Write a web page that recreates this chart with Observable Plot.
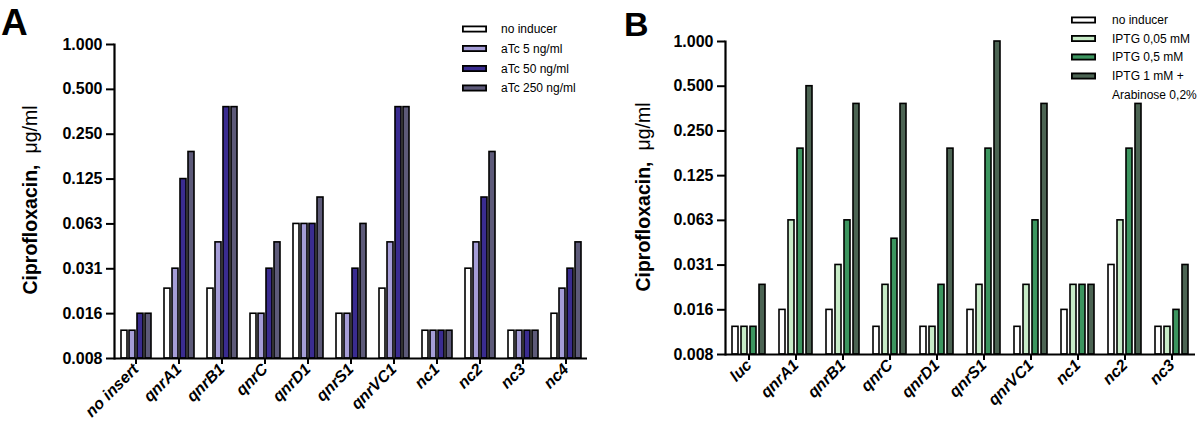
<!DOCTYPE html>
<html><head><meta charset="utf-8">
<script src="https://cdn.jsdelivr.net/npm/d3@7"></script>
<script src="https://cdn.jsdelivr.net/npm/@observablehq/plot@0.6"></script>
<style>
body{margin:0;background:#fff;}
#wrap{position:relative;width:1200px;height:435px;overflow:hidden;background:#fff;}
.panel{position:absolute;top:0;width:600px;height:435px;}
#overlay{position:absolute;left:0;top:0;pointer-events:none;}
g[aria-label="fx-axis tick label"] text{font-style:italic;}
</style></head>
<body>
<div id="wrap">
  <div class="panel" id="pa" style="left:0"></div>
  <div class="panel" id="pb" style="left:600px"></div>
</div>
<script>
// ---- data ----
const yTickValues = [1, 0.5, 0.25, 0.125, 0.0625, 0.03125, 0.015625, 0.0078125];
const yTickLabels = ["1.000", "0.500", "0.250", "0.125", "0.063", "0.031", "0.016", "0.008"];
const yLabelBold = "Ciprofloxacin,";
const yLabelUnit = "μg/ml";

const groupsA = ["no insert", "qnrA1", "qnrB1", "qnrC", "qnrD1", "qnrS1", "qnrVC1", "nc1", "nc2", "nc3", "nc4"];
const seriesA = ["no inducer", "aTc 5 ng/ml", "aTc 50 ng/ml", "aTc 250 ng/ml"];
const colorsA = ["#ffffff", "#a59dd7", "#3a2c90", "#5d5a79"];
const noInducerA = [0.012, 0.023, 0.023, 0.0156, 0.0625, 0.0156, 0.023, 0.012, 0.0313, 0.012, 0.0156];
const aTc5A      = [0.012, 0.0313, 0.047, 0.0156, 0.0625, 0.0156, 0.047, 0.012, 0.047, 0.012, 0.023];
const aTc50A     = [0.0156, 0.125, 0.38, 0.0313, 0.0625, 0.0313, 0.38, 0.012, 0.094, 0.012, 0.0313];
const aTc250A    = [0.0156, 0.19, 0.38, 0.047, 0.094, 0.0625, 0.38, 0.012, 0.19, 0.012, 0.047];

const groupsB = ["luc", "qnrA1", "qnrB1", "qnrC", "qnrD1", "qnrS1", "qnrVC1", "nc1", "nc2", "nc3"];
const seriesB = ["no inducer", "IPTG 0,05 mM", "IPTG 0,5 mM", "IPTG 1 mM + Arabinose 0,2%"];
const colorsB = ["#ffffff", "#c7ebc7", "#3c955f", "#4c6453"];
const noInducerB = [0.012, 0.0156, 0.0156, 0.012, 0.012, 0.0156, 0.012, 0.0156, 0.0313, 0.012];
const iptg005B   = [0.012, 0.0625, 0.0313, 0.023, 0.012, 0.023, 0.023, 0.023, 0.0625, 0.012];
const iptg05B    = [0.012, 0.19, 0.0625, 0.047, 0.023, 0.19, 0.0625, 0.023, 0.19, 0.0156];
const iptg1AraB  = [0.023, 0.5, 0.38, 0.38, 0.19, 1, 0.38, 0.023, 0.38, 0.0313];

const yMin = yTickValues[yTickValues.length - 1];
const yMax = yTickValues[0];
const tickLabelMap = new Map(yTickValues.map((v, i) => [v, yTickLabels[i]]));

function build(groups, series, values) {
  const out = [];
  groups.forEach((g, i) => series.forEach((s, j) => out.push({group: g, series: s, value: values[j][i]})));
  return out;
}

function panel(cfg) {
  const data = build(cfg.groups, cfg.series, cfg.values);
  return Plot.plot({
    width: 600, height: 435,
    marginLeft: cfg.ml, marginRight: cfg.mr, marginTop: cfg.mt, marginBottom: cfg.mb,
    style: {fontFamily: "'Liberation Sans', Arial, sans-serif", fontSize: "16px", fontWeight: "bold", color: "#000", background: "transparent", overflow: "visible"},
    fx: {domain: cfg.groups, padding: 0, label: null},
    x: {domain: cfg.series, paddingInner: cfg.pi, paddingOuter: cfg.po, axis: null},
    y: {type: "log", base: 2, domain: [yMin, yMax], label: null},
    color: {domain: cfg.series, range: cfg.colors},
    marks: [
      Plot.barY(data, {fx: "group", x: "series", y1: yMin, y2: "value", fill: "series", stroke: "#000", strokeWidth: 1.6}),
      Plot.ruleY([yMin], {stroke: "#000", strokeWidth: 2.2}),
      Plot.frame({anchor: "left", facetAnchor: "left", stroke: "#000", strokeWidth: 2.2}),
      Plot.axisY({ticks: yTickValues, tickFormat: d => tickLabelMap.get(d), tickSize: 8, tickPadding: 4, strokeWidth: 2, label: null, fontSize: 16}),
      Plot.axisFx({anchor: "bottom", tickRotate: -45, tickSize: 6, tickPadding: 2, strokeWidth: 2, label: null, fontSize: 16, fontStyle: "italic"})
    ]
  });
}

document.getElementById("pa").append(panel({
  groups: groupsA, series: seriesA, colors: colorsA,
  values: [noInducerA, aTc5A, aTc50A, aTc250A],
  ml: 113, mr: 12, mt: 44, mb: 77, pi: 0.3, po: 0.56
}));
document.getElementById("pb").append(panel({
  groups: groupsB, series: seriesB, colors: colorsB,
  values: [noInducerB, iptg005B, iptg05B, iptg1AraB],
  ml: 123, mr: 3, mt: 41, mb: 81, pi: 0.3, po: 0.7
}));

// ---- overlay: panel letters, y labels, legends ----
const svg = d3.select("#wrap").append("svg").attr("id", "overlay")
  .attr("width", 1200).attr("height", 435)
  .style("font-family", "'Liberation Sans', Arial, sans-serif");

svg.append("text").attr("x", 1).attr("y", 35).attr("font-size", 37).attr("font-weight", "bold").text("A");
svg.append("text").attr("x", 624).attr("y", 36).attr("font-size", 34).attr("font-weight", "bold").text("B");

function yLabel(x, y) {
  const t = svg.append("text").attr("transform", `translate(${x},${y}) rotate(-90)`)
    .attr("text-anchor", "middle").attr("font-size", 19.5);
  t.append("tspan").attr("font-weight", "bold").text(yLabelBold);
  t.append("tspan").attr("dx", 11).attr("font-weight", "normal").text(yLabelUnit);
}
yLabel(37, 200);
yLabel(650, 197);

function legend(series, colors, swX, txX, rows) {
  series.forEach((s, i) => {
    const y = rows[i];
    svg.append("rect").attr("x", swX + 0.9).attr("y", y - 2.6).attr("width", 23.2).attr("height", 5.2)
      .attr("fill", colors[i]).attr("stroke", "#000").attr("stroke-width", 1.8);
    const parts = s.includes("+ ") ? [s.slice(0, s.indexOf("+ ") + 1), s.slice(s.indexOf("+ ") + 2)] : [s];
    parts.forEach((p, k) => {
      svg.append("text").attr("x", txX).attr("y", y + 4.3 + k * 18.5).attr("font-size", 12).text(p);
    });
  });
}
legend(seriesA, colorsA, 462, 501, [29, 48.5, 68.5, 88]);
legend(seriesB, colorsB, 1071, 1112, [20, 38.5, 57, 76]);
</script>
</body></html>
